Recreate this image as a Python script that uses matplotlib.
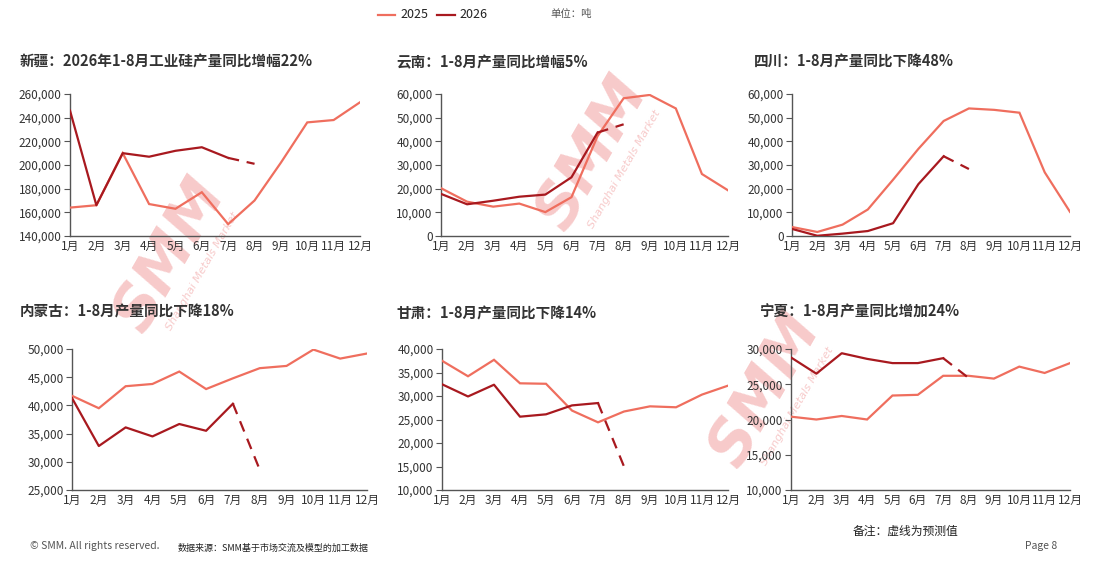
import matplotlib
matplotlib.use("Agg")
import matplotlib.pyplot as plt
from matplotlib.ticker import FuncFormatter, MultipleLocator

plt.rcParams['font.family'] = ['Noto Sans CJK SC', 'DejaVu Sans']

months = ['1月', '2月', '3月', '4月', '5月', '6月', '7月', '8月', '9月', '10月', '11月', '12月']

titles = [
    '新疆：2026年1-8月工业硅产量同比增幅22%',
    '云南：1-8月产量同比增幅5%',
    '四川：1-8月产量同比下降48%',
    '内蒙古：1-8月产量同比下降18%',
    '甘肃：1-8月产量同比下降14%',
    '宁夏：1-8月产量同比增加24%',
]

xinjiang_2025 = [164000, 166000, 210000, 167000, 163000, 177000, 150000, 170000, 202000, 236000, 238000, 253000]
xinjiang_2026 = [246000, 166000, 210000, 207000, 212000, 215000, 206000, 201000]

yunnan_2025 = [20200, 14500, 12400, 13700, 10100, 16400, 42200, 58200, 59600, 53900, 26200, 19300]
yunnan_2026 = [17800, 13400, 14900, 16600, 17500, 24800, 43700, 47200]

sichuan_2025 = [3800, 1700, 4800, 11200, 23800, 36800, 48600, 53900, 53300, 52100, 26900, 10200]
sichuan_2026 = [3000, 100, 1000, 2100, 5400, 21900, 33700, 28300]

neimenggu_2025 = [41700, 39500, 43400, 43800, 46000, 42900, 44800, 46600, 47000, 49900, 48300, 49200]
neimenggu_2026 = [41300, 32800, 36100, 34500, 36700, 35500, 40300, 28600]

gansu_2025 = [37500, 34200, 37700, 32700, 32600, 26900, 24400, 26700, 27800, 27600, 30300, 32200]
gansu_2026 = [32500, 29900, 32400, 25600, 26100, 28000, 28500, 15000]

ningxia_2025 = [20400, 20000, 20500, 20000, 23400, 23500, 26200, 26200, 25800, 27500, 26600, 28000]
ningxia_2026 = [28800, 26500, 29400, 28600, 28000, 28000, 28700, 25900]

series_2025 = [xinjiang_2025, yunnan_2025, sichuan_2025, neimenggu_2025, gansu_2025, ningxia_2025]
series_2026 = [xinjiang_2026, yunnan_2026, sichuan_2026, neimenggu_2026, gansu_2026, ningxia_2026]

y_ranges = [(140000, 260000, 20000), (0, 60000, 10000), (0, 60000, 10000),
            (25000, 50000, 5000), (10000, 40000, 5000), (10000, 30000, 5000)]

W, H = 1093, 570
C25 = '#EF6E5E'
C26 = '#A8191F'
TXT = '#333333'

fig = plt.figure(figsize=(W / 100, H / 100), dpi=100)
fig.patch.set_facecolor('white')

# axes boxes in pixels: left, right, top, bottom
boxes = [
    (70, 360, 94, 236), (441, 728, 94, 236), (792, 1070, 94, 236),
    (72, 367, 349, 490), (442, 728, 349, 490), (791, 1070, 349, 490),
]
title_pos = [(20, 62), (396, 62), (754, 62), (20, 311), (396, 313), (759, 311)]

# watermarks (only those lying fully inside the picture)
wm_centers = [(170, 255), (592, 153), (765, 390)]
for cx, cy in wm_centers:
    fig.text(cx / W, 1 - cy / H, 'SMM', rotation=60, fontsize=44, fontweight='heavy',
             fontstyle='italic', family='DejaVu Sans', color='#F7CACA',
             ha='center', va='center', zorder=-5)
    fig.text((cx + 32) / W, 1 - (cy + 16) / H, 'Shanghai Metals Market', rotation=60,
             fontsize=8, fontstyle='italic', family='DejaVu Sans', color='#F7CACA',
             ha='center', va='center', zorder=-5)

fmt = FuncFormatter(lambda v, p: f'{int(v):,}')
x = list(range(12))

for i in range(6):
    l, r, t, b = boxes[i]
    ax = fig.add_axes([l / W, 1 - b / H, (r - l) / W, (b - t) / H])
    ax.patch.set_visible(False)
    ymin, ymax, step = y_ranges[i]
    s25 = series_2025[i]
    s26 = series_2026[i]
    ax.plot(x, s25, color=C25, lw=1.6, solid_joinstyle='miter', zorder=3)
    ax.plot(x[:7], s26[:7], color=C26, lw=1.6, zorder=4)
    ax.plot(x[6:8], s26[6:8], color=C26, lw=1.6, ls=(0, (5, 3.5)), zorder=4)
    ax.set_xlim(0, 11)
    ax.set_ylim(ymin, ymax)
    ax.yaxis.set_major_locator(MultipleLocator(step))
    ax.yaxis.set_major_formatter(fmt)
    ax.set_xticks(x)
    ax.set_xticklabels(months)
    for s in ['top', 'right']:
        ax.spines[s].set_visible(False)
    for s in ['left', 'bottom']:
        ax.spines[s].set_color('#555555')
        ax.spines[s].set_linewidth(1.0)
    ax.tick_params(axis='y', length=4, width=0.8, color='#555555', labelsize=8.5,
                   labelcolor=TXT, pad=2)
    ax.tick_params(axis='x', length=0, labelsize=8.5, labelcolor=TXT, pad=3)
    tx, ty = title_pos[i]
    fig.text(tx / W, 1 - ty / H, titles[i], fontsize=10.5, fontweight='bold',
             color=TXT, ha='left', va='center')

# legend
fig.lines.append(plt.Line2D([378 / W, 395 / W], [1 - 15 / H, 1 - 15 / H], color=C25, lw=1.6,
                            transform=fig.transFigure))
fig.text(400 / W, 1 - 15 / H, '2025', fontsize=9, color='#222222', ha='left', va='center')
fig.lines.append(plt.Line2D([437 / W, 455 / W], [1 - 15 / H, 1 - 15 / H], color=C26, lw=1.6,
                            transform=fig.transFigure))
fig.text(459 / W, 1 - 15 / H, '2026', fontsize=9, color='#222222', ha='left', va='center')
fig.text(550 / W, 1 - 14 / H, '单位：吨', fontsize=7.5, fontstyle='italic', color='#555555',
         ha='left', va='center')

# footer
fig.text(30 / W, 1 - 546 / H, '© SMM. All rights reserved.', fontsize=7.5, color='#555555',
         ha='left', va='center')
fig.text(178 / W, 1 - 548 / H, '数据来源：SMM基于市场交流及模型的加工数据', fontsize=6.5,
         color='#222222', ha='left', va='center')
fig.text(853 / W, 1 - 531 / H, '备注：虚线为预测值', fontsize=8.5, color='#222222',
         ha='left', va='center')
fig.text(1025 / W, 1 - 546 / H, 'Page 8', fontsize=7.5, color='#555555', ha='left', va='center')

fig.savefig('out.png', dpi=100, facecolor='white')
